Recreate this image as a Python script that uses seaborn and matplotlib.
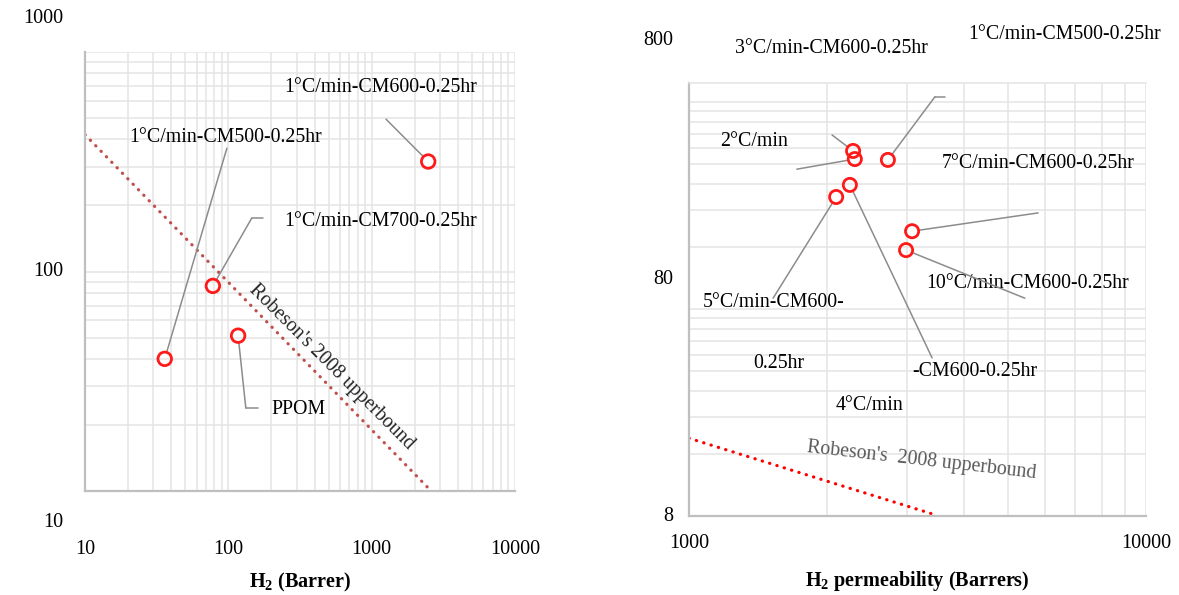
import numpy as np
import pandas as pd
import matplotlib
matplotlib.use("Agg")
import matplotlib.pyplot as plt
from matplotlib.ticker import FixedLocator, NullFormatter
import seaborn as sns

# ---------------- data ----------------
# Left panel: H2/N2 selectivity vs H2 permeability (Barrer)
left_names = ["1°C/min-CM600-0.25hr", "1°C/min-CM700-0.25hr", "PPOM", "1°C/min-CM500-0.25hr"]
left_h2 = [2480, 78, 117, 36]
left_sel = [317, 86, 51, 40]

# Robeson 2008 upper bound segments
left_bound_x = [10, 2600]
left_bound_y = [420, 10]
right_bound_x = [1000, 3400]
right_bound_y = [19, 8.2]

# Right panel: heating-rate series
right_names = ["1°C/min-CM500-0.25hr", "3°C/min-CM600-0.25hr", "2°C/min-CM600-0.25hr",
               "4°C/min-CM600-0.25hr", "5°C/min-CM600-0.25hr", "7°C/min-CM600-0.25hr",
               "10°C/min-CM600-0.25hr"]
right_h2 = [2724, 2286, 2306, 2249, 2099, 3077, 2985]
right_sel = [420, 464, 424, 318, 278, 190, 154]

left_xticks = [10, 100, 1000, 10000]
left_yticks = ["10", "100", "1000"]
right_xticks = [1000, 10000]
right_yticks = ["8", "80", "800"]

# ---------------- style ----------------
sns.set_style("white")
plt.rcParams["font.family"] = ["Liberation Serif", "DejaVu Serif"]
plt.rcParams["mathtext.fontset"] = "custom"
plt.rcParams["mathtext.rm"] = "Liberation Serif"
plt.rcParams["mathtext.bf"] = "Liberation Serif:bold"
plt.rcParams["text.color"] = "black"
plt.rcParams["axes.labelcolor"] = "black"
plt.rcParams["xtick.color"] = "black"
plt.rcParams["ytick.color"] = "black"

GRID = "#e4e4e4"
SPINE = "#bfbfbf"
LEADER = "#8c8c8c"
FS_TICK = 14.5
FS_ANN = 14.3

fig = plt.figure(figsize=(11.79, 5.95), dpi=100)
W, H = 1179, 595
ax1 = fig.add_axes([85 / W, 1 - 491 / H, 430 / W, 439 / H])
ax2 = fig.add_axes([689 / W, 1 - 516 / H, 457 / W, 433 / H])

for ax in (ax1, ax2):
    ax.set_xscale("log")
    ax.set_yscale("log")
    for s in ("top", "right"):
        ax.spines[s].set_visible(False)
    for s in ("left", "bottom"):
        ax.spines[s].set_color(SPINE)
        ax.spines[s].set_linewidth(1.6)
    ax.tick_params(length=0, labelsize=FS_TICK, labelleft=False)
    ax.set_axisbelow(True)

# ---------------- left panel ----------------
ax1.set_xlim(10, 10000)
ax1.set_ylim(10, 1000)
ax1.xaxis.set_major_locator(FixedLocator(left_xticks))
ax1.set_xticklabels([str(v) for v in left_xticks])
ax1.xaxis.set_minor_locator(FixedLocator([k * 10 ** d for d in range(1, 4) for k in range(2, 10)]))
ax1.yaxis.set_major_locator(FixedLocator([10, 100, 1000]))
ax1.yaxis.set_minor_locator(FixedLocator([k * 10 ** d for d in range(1, 3) for k in range(2, 10)]))
ax1.xaxis.set_minor_formatter(NullFormatter())
ax1.yaxis.set_minor_formatter(NullFormatter())
ax1.grid(which="both", color=GRID, lw=1.1)
ax1.tick_params(axis="x", pad=35)
for lab, fy in zip(left_yticks, [-0.071, 0.499, 1.077]):
    ax1.text(-0.051, fy, lab, transform=ax1.transAxes, ha="right", va="center", fontsize=FS_TICK)

sns.lineplot(x=left_bound_x, y=left_bound_y, ax=ax1, color="#c0504d", lw=2.3,
             linestyle=(0, (0.1, 2.3)), dash_capstyle="round", legend=False, zorder=2)
sns.scatterplot(x=left_h2, y=left_sel, ax=ax1, marker="o", s=95, facecolor="none",
                edgecolor="#ff1a1a", linewidth=2, legend=False, zorder=4)

ax1.text(0.572, 0.283, "Robeson's 2008 upperbound", transform=ax1.transAxes, rotation=-45,
         ha="center", va="center", rotation_mode="anchor", fontsize=FS_ANN, color="#262626")

# label text positions (axes fraction) and leader paths
left_label_pos = [(0.687, 0.918), (0.687, 0.613), (0.496, 0.185), (0.327, 0.806)]
left_leader = [
    [(0.700, 0.847)],
    [(0.414, 0.622), (0.388, 0.622)],
    [(0.402, 0.189), (0.374, 0.189)],
    [(0.330, 0.781)],
]
for name, (tx, ty), path, px, py in zip(left_names, left_label_pos, left_leader, left_h2, left_sel):
    ax1.text(tx, ty, name, transform=ax1.transAxes, ha="center", va="center", fontsize=FS_ANN)
    if len(path) > 1:
        xs, ys = zip(*path)
        ax1.plot(xs, ys, transform=ax1.transAxes, color=LEADER, lw=1.1)
    ax1.annotate("", xy=(px, py), xycoords="data", xytext=path[-1], textcoords="axes fraction",
                 arrowprops=dict(arrowstyle="-", color=LEADER, lw=1.1, shrinkA=0, shrinkB=5))

ax1.set_xlabel(r"H$_\mathbf{2}$ (Barrer)", fontsize=FS_TICK, fontweight="bold")
ax1.xaxis.set_label_coords(0.5, -0.182)
ax1.set_ylabel(r"α(H$_\mathbf{2}$/N$_\mathbf{2}$)", fontsize=FS_TICK - 0.5, fontweight="bold")
ax1.yaxis.set_label_coords(-0.147, 0.538)

# ---------------- right panel ----------------
ax2.set_xlim(1000, 10000)
ax2.set_ylim(8, 988)
ax2.spines["top"].set_visible(True)
ax2.spines["top"].set_color(GRID)
ax2.spines["top"].set_linewidth(1.1)
ax2.xaxis.set_major_locator(FixedLocator(right_xticks))
ax2.set_xticklabels([str(v) for v in right_xticks])
ax2.xaxis.set_minor_locator(FixedLocator([k * 1000 for k in range(2, 10)]))
ax2.yaxis.set_major_locator(FixedLocator([8, 80, 800]))
ax2.yaxis.set_minor_locator(FixedLocator([8 * k * 10 ** d for d in range(0, 2) for k in range(2, 10)]))
ax2.xaxis.set_minor_formatter(NullFormatter())
ax2.yaxis.set_minor_formatter(NullFormatter())
ax2.grid(which="both", color=GRID, lw=1.1)
ax2.tick_params(axis="x", pad=13)
for lab, fy in zip(right_yticks, [-0.002, 0.547, 1.099]):
    ax2.text(-0.035, fy, lab, transform=ax2.transAxes, ha="right", va="center", fontsize=FS_TICK)

sns.lineplot(x=right_bound_x, y=right_bound_y, ax=ax2, color="#ff0000", lw=2.3,
             linestyle=(0, (0.1, 2.3)), dash_capstyle="round", legend=False, zorder=2)
sns.scatterplot(x=right_h2, y=right_sel, ax=ax2, marker="o", s=90, facecolor="none",
                edgecolor="#ff1a1a", linewidth=2, legend=False, zorder=4)

ax2.text(0.508, 0.127, "Robeson's  2008 upperbound", transform=ax2.transAxes, rotation=-6.5,
         ha="center", va="center", rotation_mode="anchor", fontsize=FS_ANN, color="#595959")

right_texts = [
    ("1°C/min-CM500-0.25hr", 0.821, 1.111),
    ("3°C/min-CM600-0.25hr", 0.311, 1.079),
    ("2°C/min", 0.142, 0.864),
    ("7°C/min-CM600-0.25hr", 0.764, 0.815),
    ("10°C/min-CM600-0.25hr", 0.742, 0.538),
    ("5°C/min-CM600-", 0.186, 0.492),
    ("0.25hr", 0.197, 0.353),
    ("-CM600-0.25hr", 0.626, 0.333),
    ("4°C/min", 0.396, 0.256),
]
for txt, tx, ty in right_texts:
    ax2.text(tx, ty, txt, transform=ax2.transAxes, ha="center", va="center", fontsize=FS_ANN)

right_leader = [
    [(0.560, 0.968), (0.538, 0.968)],
    [(0.313, 0.880)],
    [(0.236, 0.801)],
    [(0.532, 0.365)],
    [(0.184, 0.503)],
    [(0.764, 0.700)],
    [(0.735, 0.503)],
]
for path, px, py in zip(right_leader, right_h2, right_sel):
    if len(path) > 1:
        xs, ys = zip(*path)
        ax2.plot(xs, ys, transform=ax2.transAxes, color=LEADER, lw=1.1)
    ax2.annotate("", xy=(px, py), xycoords="data", xytext=path[-1], textcoords="axes fraction",
                 arrowprops=dict(arrowstyle="-", color=LEADER, lw=1.1, shrinkA=0, shrinkB=5))

ax2.set_xlabel(r"H$_\mathbf{2}$ permeability (Barrers)", fontsize=FS_TICK, fontweight="bold")
ax2.xaxis.set_label_coords(0.5, -0.122)
ax2.set_ylabel(r"α(H$_\mathbf{2}$/N$_\mathbf{2}$)", fontsize=FS_TICK - 0.5, fontweight="bold")
ax2.yaxis.set_label_coords(-0.125, 0.566)

fig.savefig("out.png", dpi=100, facecolor="white")
